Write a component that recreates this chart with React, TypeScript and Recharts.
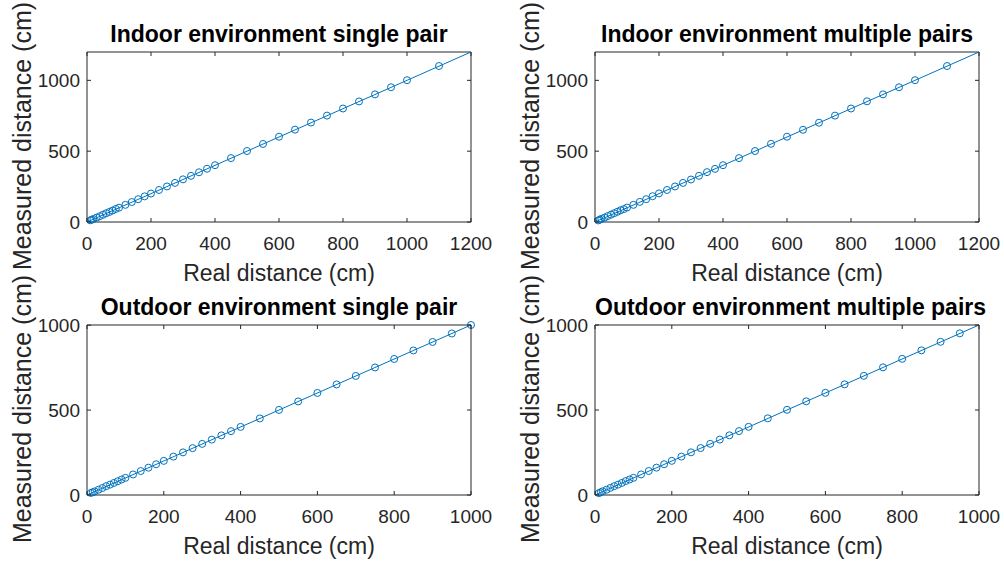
import React from 'react';
import { ScatterChart, Scatter, XAxis, YAxis, Label } from 'recharts';

// ---------- data ----------
const indoorSingleReal = [10, 15, 20, 30, 40, 50, 60, 70, 80, 90, 100, 120, 140, 160, 180, 200, 225, 250, 275, 300, 325, 350, 375, 400, 450, 500, 550, 600, 650, 700, 750, 800, 850, 900, 950, 1000, 1100];
const indoorSingleMeasured = [12, 16, 21, 31, 41, 51, 62, 71, 81, 92, 101, 121, 141, 161, 181, 201, 226, 251, 276, 301, 326, 351, 376, 401, 451, 501, 551, 602, 652, 702, 751, 801, 851, 901, 951, 1001, 1101];

const indoorMultiReal = [10, 15, 20, 30, 40, 50, 60, 70, 80, 90, 100, 120, 140, 160, 180, 200, 225, 250, 275, 300, 325, 350, 375, 400, 450, 500, 550, 600, 650, 700, 750, 800, 850, 900, 950, 1000, 1100];
const indoorMultiMeasured = [11, 16, 22, 31, 42, 52, 62, 72, 83, 91, 102, 121, 142, 161, 182, 202, 226, 251, 276, 300, 326, 352, 375, 401, 451, 501, 552, 602, 651, 701, 751, 801, 852, 901, 951, 1001, 1101];

const outdoorSingleReal = [10, 15, 20, 30, 40, 50, 60, 70, 80, 90, 100, 120, 140, 160, 180, 200, 225, 250, 275, 300, 325, 350, 375, 400, 450, 500, 550, 600, 650, 700, 750, 800, 850, 900, 950, 1000];
const outdoorSingleMeasured = [12, 16, 21, 31, 41, 52, 61, 71, 81, 91, 101, 121, 141, 161, 181, 201, 226, 251, 276, 301, 326, 351, 376, 401, 451, 501, 551, 601, 651, 701, 751, 801, 851, 901, 951, 1001];

const outdoorMultiReal = [10, 15, 20, 30, 40, 50, 60, 70, 80, 90, 100, 120, 140, 160, 180, 200, 225, 250, 275, 300, 325, 350, 375, 400, 450, 500, 550, 600, 650, 700, 750, 800, 850, 900, 950];
const outdoorMultiMeasured = [11, 16, 22, 31, 42, 52, 61, 71, 82, 91, 101, 121, 141, 161, 181, 201, 226, 251, 276, 301, 326, 351, 376, 401, 451, 501, 551, 601, 651, 701, 751, 801, 851, 901, 951];

// ideal y = x reference line end points per panel
const idealIndoor = [0, 1200];
const idealOutdoor = [0, 1000];

const ticksX1200 = [0, 200, 400, 600, 800, 1000, 1200];
const ticksX1000 = [0, 200, 400, 600, 800, 1000];
const ticksY = [0, 500, 1000];

const titles = [
  'Indoor environment single pair',
  'Indoor environment multiple pairs',
  'Outdoor environment single pair',
  'Outdoor environment multiple pairs',
];
const xLabel = 'Real distance (cm)';
const yLabel = 'Measured distance (cm)';

// ---------- style ----------
const BLUE = '#0072BD';
const AX = '#262626';
const FONT = '"Liberation Sans", Arial, Helvetica, sans-serif';
const CHART_W = 502;
const CHART_H = 290;
const MARGIN = { top: 51, right: 30, bottom: 0, left: 0 };
const Y_W = 87;
const X_H = 68;
const TICK_LEN = 4;

const toPoints = (xs: number[], ys: number[]) => xs.map((x, i) => ({ x, y: ys[i] }));

const BottomTick = (props: any) => {
  const { x, y, payload } = props;
  return (
    <g>
      <line x1={x} y1={y} x2={x} y2={y - TICK_LEN} stroke={AX} strokeWidth={1} />
      <text x={x} y={y + 21} textAnchor="middle" dominantBaseline="central" fill={AX} fontSize={19} fontFamily={FONT}>
        {payload.value}
      </text>
    </g>
  );
};
const TopTick = (props: any) => {
  const { x, y } = props;
  return <line x1={x} y1={y} x2={x} y2={y + TICK_LEN} stroke={AX} strokeWidth={1} />;
};
const LeftTick = (props: any) => {
  const { x, y, payload } = props;
  return (
    <g>
      <line x1={x} y1={y} x2={x + TICK_LEN} y2={y} stroke={AX} strokeWidth={1} />
      <text x={x - 7} y={y} textAnchor="end" dominantBaseline="central" fill={AX} fontSize={19} fontFamily={FONT}>
        {payload.value}
      </text>
    </g>
  );
};
const RightTick = (props: any) => {
  const { x, y } = props;
  return <line x1={x} y1={y} x2={x - TICK_LEN} y2={y} stroke={AX} strokeWidth={1} />;
};

const XLabelContent = (props: any) => {
  const vb = props.viewBox;
  return (
    <text x={vb.x + vb.width / 2} y={vb.y + 51} textAnchor="middle" dominantBaseline="central" fill={AX} fontSize={23} fontFamily={FONT}>
      {xLabel}
    </text>
  );
};
const YLabelContent = (props: any) => {
  const vb = props.viewBox;
  const cx = vb.x + vb.width - 65;
  const cy = vb.y + vb.height / 2 - 1;
  return (
    <text x={cx} y={cy} transform={`rotate(-90 ${cx} ${cy})`} textAnchor="middle" dominantBaseline="central" fill={AX} fontSize={25} fontFamily={FONT}>
      {yLabel}
    </text>
  );
};

const CircleShape = (props: any) => (
  <circle cx={props.cx} cy={props.cy} r={3.5} fill="none" stroke={BLUE} strokeWidth={1} />
);
const NoShape = () => <g />;

type PanelProps = {
  title: string;
  data: { x: number; y: number }[];
  ideal: number[];
  xTicks: number[];
  left: number;
  top: number;
};

const Panel = ({ title, data, ideal, xTicks, left, top }: PanelProps) => {
  const max = ideal[1];
  const idealData = toPoints(ideal, ideal);
  return (
    <div style={{ position: 'absolute', left, top, width: CHART_W, height: CHART_H }}>
      <ScatterChart width={CHART_W} height={CHART_H} margin={MARGIN}>
        <XAxis
          xAxisId="b"
          type="number"
          dataKey="x"
          domain={[0, max]}
          ticks={xTicks}
          orientation="bottom"
          height={X_H}
          tickSize={0}
          tickMargin={0}
          tickLine={false}
          axisLine={{ stroke: AX, strokeWidth: 1 }}
          tick={BottomTick}
          interval={0}
        >
          <Label content={XLabelContent} />
        </XAxis>
        <XAxis
          xAxisId="t"
          type="number"
          dataKey="x"
          domain={[0, max]}
          ticks={xTicks}
          orientation="top"
          height={1}
          tickSize={0}
          tickMargin={0}
          tickLine={false}
          axisLine={{ stroke: AX, strokeWidth: 1 }}
          tick={TopTick}
          interval={0}
        />
        <YAxis
          yAxisId="l"
          type="number"
          dataKey="y"
          domain={[0, max]}
          ticks={ticksY}
          orientation="left"
          width={Y_W}
          tickSize={0}
          tickMargin={0}
          tickLine={false}
          axisLine={{ stroke: AX, strokeWidth: 1 }}
          tick={LeftTick}
          interval={0}
        >
          <Label content={YLabelContent} />
        </YAxis>
        <YAxis
          yAxisId="r"
          type="number"
          dataKey="y"
          domain={[0, max]}
          ticks={ticksY}
          orientation="right"
          width={1}
          tickSize={0}
          tickMargin={0}
          tickLine={false}
          axisLine={{ stroke: AX, strokeWidth: 1 }}
          tick={RightTick}
          interval={0}
        />
        <Scatter
          xAxisId="t"
          yAxisId="r"
          data={idealData}
          line={{ stroke: BLUE, strokeWidth: 1 }}
          shape={NoShape}
          isAnimationActive={false}
        />
        <Scatter
          xAxisId="b"
          yAxisId="l"
          data={data}
          shape={CircleShape}
          isAnimationActive={false}
        />
      </ScatterChart>
      <div
        style={{
          position: 'absolute',
          left: Y_W,
          width: CHART_W - Y_W - MARGIN.right - 1,
          top: 21,
          textAlign: 'center',
          fontFamily: FONT,
          fontWeight: 'bold',
          fontSize: 23,
          lineHeight: '26px',
          color: '#000',
          whiteSpace: 'nowrap',
        }}
      >
        {title}
      </div>
    </div>
  );
};

export default function App() {
  return (
    <div style={{ position: 'absolute', left: 0, top: 0, width: 1004, height: 563, background: '#fff', overflow: 'hidden' }}>
      <Panel title={titles[0]} data={toPoints(indoorSingleReal, indoorSingleMeasured)} ideal={idealIndoor} xTicks={ticksX1200} left={0} top={0} />
      <Panel title={titles[1]} data={toPoints(indoorMultiReal, indoorMultiMeasured)} ideal={idealIndoor} xTicks={ticksX1200} left={508} top={0} />
      <Panel title={titles[2]} data={toPoints(outdoorSingleReal, outdoorSingleMeasured)} ideal={idealOutdoor} xTicks={ticksX1000} left={0} top={273} />
      <Panel title={titles[3]} data={toPoints(outdoorMultiReal, outdoorMultiMeasured)} ideal={idealOutdoor} xTicks={ticksX1000} left={508} top={273} />
    </div>
  );
}
